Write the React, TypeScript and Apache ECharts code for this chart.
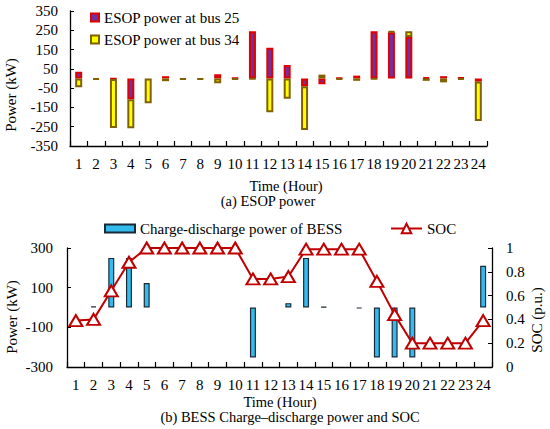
import React, { useEffect, useRef } from "react";
import * as echarts from "echarts";

const hours = ["1","2","3","4","5","6","7","8","9","10","11","12","13","14","15","16","17","18","19","20","21","22","23","24"];
const bus25 = [35, null, -2, -108, null, 12, null, null, 22, 2, 245, 160, 70, -40, -30, 3, 15, 245, 240, 215, 5, 12, 4, -16];
const bus34 = [-45, -5, -255, -150, -128, -14, -4, -4, -25, -5, -2, -175, -105, -227, 20, -5, -12, -2, 4, 30, -12, -20, -6, -205];
const bess = [null, 6, 250, 250, 123, null, null, null, null, null, -252, null, 22, 250, 3, null, -5, -252, -252, -252, null, null, null, 210];
const soc = [0.39, 0.4, 0.64, 0.88, 1, 1, 1, 1, 1, 1, 0.74, 0.74, 0.76, 0.99, 0.99, 0.99, 0.99, 0.72, 0.44, 0.2, 0.2, 0.2, 0.2, 0.39];
const topTicks = [-350, -250, -150, -50, 50, 150, 250, 350];
const bottomTicks = [-300, -100, 100, 300];

const FONT = "'Liberation Serif', 'Times New Roman', serif";
const FS = 15;

function txt(text: string, x: number, y: number, rot = 0, fs = FS) {
  return {
    type: "text",
    x,
    y,
    rotation: rot,
    style: {
      text,
      fontFamily: FONT,
      fontSize: fs,
      fontWeight: "normal",
      fill: "#000",
      align: "center",
      verticalAlign: "middle",
      textAlign: "center",
      textVerticalAlign: "middle",
    },
  };
}

export default function App() {
  const ref = useRef<HTMLDivElement>(null);
  useEffect(() => {
    document.body.style.margin = "0";
    const chart = echarts.init(ref.current!, undefined, { renderer: "svg" });
    const axisLine = { show: true, onZero: false, lineStyle: { color: "#000", width: 1.3 } };
    const catAxis = (gi: number) => ({
      type: "category",
      gridIndex: gi,
      data: hours,
      axisLine,
      axisTick: { show: true, inside: true, length: 5, interval: 0, lineStyle: { color: "#000", width: 1.2 } },
      axisLabel: { interval: 0, color: "#000", fontFamily: FONT, fontSize: FS, margin: 10 },
      splitLine: { show: false },
    });
    const legendText = { fontFamily: FONT, fontSize: FS, color: "#000" };
    const option: any = {
      animation: false,
      textStyle: { fontFamily: FONT, fontSize: FS, color: "#000" },
      grid: [
        { left: 70, top: 11, width: 417, height: 135 },
        { left: 67, top: 248, width: 425, height: 119 },
      ],
      legend: [
        {
          data: [
            { name: "ESOP power at bus 25", icon: "rect" },
            { name: "ESOP power at bus 34", icon: "rect" },
          ],
          orient: "vertical",
          left: 90,
          top: 10,
          padding: 0,
          itemWidth: 8,
          itemHeight: 8,
          itemGap: 7,
          textStyle: legendText,
        },
        {
          data: [{ name: "Charge-discharge power of BESS", icon: "rect" }],
          left: 104,
          top: 221,
          padding: 0,
          itemWidth: 30,
          itemHeight: 8,
          textStyle: legendText,
        },
        {
          data: ["SOC"],
          left: 390,
          top: 221,
          padding: 0,
          itemWidth: 31,
          itemHeight: 12,
          textStyle: legendText,
        },
      ],
      xAxis: [catAxis(0), catAxis(1)],
      yAxis: [
        {
          type: "value",
          gridIndex: 0,
          min: -350,
          max: 350,
          axisLine,
          axisTick: { show: true, inside: true, length: 4, customValues: topTicks, lineStyle: { color: "#000" } },
          axisLabel: { customValues: topTicks, color: "#000", fontFamily: FONT, fontSize: FS, margin: 12 },
          splitLine: { show: false },
        },
        {
          type: "value",
          gridIndex: 1,
          min: -300,
          max: 300,
          axisLine,
          axisTick: { show: true, inside: true, length: 4, customValues: bottomTicks, lineStyle: { color: "#000" } },
          axisLabel: { customValues: bottomTicks, color: "#000", fontFamily: FONT, fontSize: FS, margin: 14 },
          splitLine: { show: false },
        },
        {
          type: "value",
          gridIndex: 1,
          position: "right",
          min: 0,
          max: 1,
          interval: 0.2,
          axisLine,
          axisTick: { show: true, inside: true, length: 4, lineStyle: { color: "#000" } },
          axisLabel: { color: "#000", fontFamily: FONT, fontSize: FS, margin: 14 },
          splitLine: { show: false },
        },
      ],
      series: [
        {
          name: "ESOP power at bus 25",
          type: "bar",
          xAxisIndex: 0,
          yAxisIndex: 0,
          stack: "esop",
          barWidth: 7,
          data: bus25,
          itemStyle: { color: "#7030a0", borderColor: "#e00000", borderWidth: 2 },
        },
        {
          name: "ESOP power at bus 34",
          type: "bar",
          xAxisIndex: 0,
          yAxisIndex: 0,
          stack: "esop",
          barWidth: 7,
          data: bus34,
          itemStyle: { color: "#ffff00", borderColor: "#806000", borderWidth: 2 },
        },
        {
          name: "Charge-discharge power of BESS",
          type: "bar",
          xAxisIndex: 1,
          yAxisIndex: 1,
          barWidth: 6,
          data: bess,
          itemStyle: { color: "#33bbee", borderColor: "#1b2a38", borderWidth: 1.2 },
        },
        {
          name: "SOC",
          type: "line",
          xAxisIndex: 1,
          yAxisIndex: 2,
          data: soc,
          symbol: "triangle",
          symbolSize: [13, 11],
          lineStyle: { color: "#c00000", width: 2 },
          itemStyle: { color: "#ffffff", borderColor: "#c00000", borderWidth: 2 },
          z: 5,
        },
      ],
      graphic: [
        txt("Power (kW)", 11, 95, Math.PI / 2),
        txt("Time (Hour)", 286, 186, 0, 14.5),
        txt("(a) ESOP power", 268, 201, 0, 14.5),
        txt("Power (kW)", 12, 317, Math.PI / 2),
        txt("SOC (p.u.)", 537, 320, Math.PI / 2),
        txt("Time (Hour)", 280, 402, 0, 14.5),
        txt("(b) BESS Charge\u2013discharge power and SOC", 290, 417, 0, 14.5),
      ],
    };
    chart.setOption(option);
    return () => chart.dispose();
  }, []);
  return <div ref={ref} style={{ width: 550, height: 429 }} />;
}
